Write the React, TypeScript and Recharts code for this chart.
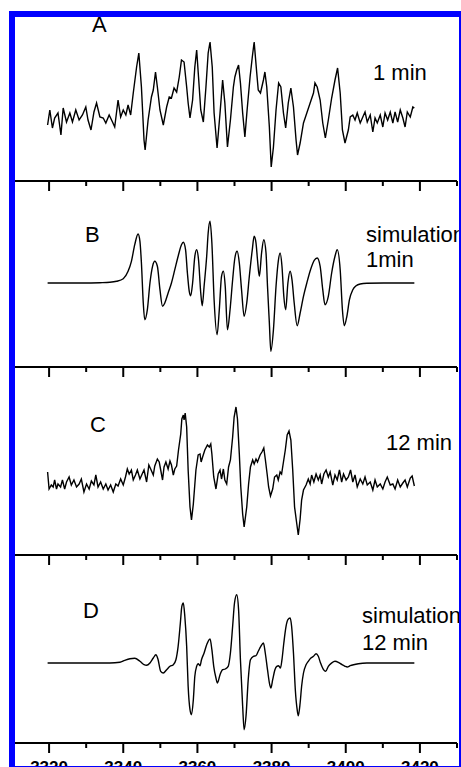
import React from "react";
import { LineChart, Line, XAxis, YAxis } from "recharts";

type Pt = [number, number]; // [field (G), signal (a.u.)]

const FIELD_TICKS = [3310, 3320, 3330, 3340, 3350, 3360, 3370, 3380, 3390, 3400, 3410, 3420, 3430];

// A: experimental, 1 min
const traceA: Pt[] = [
  [3319.6, -5], [3320.2, 10], [3320.9, -8], [3321.5, 2], [3322.4, 7], [3323.2, -15], [3323.8, 12], [3324.7, -2],
  [3325.6, 7], [3326.3, -2], [3327.2, 10], [3328.1, 0], [3329.0, 5], [3329.9, 13], [3330.5, 0], [3331.3, -10],
  [3332.1, 8], [3332.8, 17], [3333.7, 3], [3334.6, 2], [3335.3, -3], [3336.2, 5], [3337.1, -2], [3337.7, -7],
  [3338.6, 20], [3339.3, 3], [3340.0, 10], [3340.7, 5], [3341.3, 15], [3342.0, 5], [3342.7, 27], [3343.6, 53],
  [3344.2, 67], [3344.9, 33], [3345.6, -20], [3345.9, -30], [3346.7, 0], [3347.6, 23], [3348.1, 30], [3348.7, 48],
  [3349.2, 33], [3349.9, 10], [3350.8, -5], [3351.7, 13], [3352.4, 23], [3353.0, 22], [3353.7, 32], [3354.4, 28],
  [3355.1, 43], [3355.7, 60], [3356.4, 58], [3357.1, 33], [3357.5, 17], [3358.0, 2], [3358.7, 20], [3359.3, 53],
  [3359.8, 70], [3360.3, 43], [3360.9, 10], [3361.6, -2], [3362.3, 33], [3362.9, 67], [3363.4, 78], [3364.0, 53],
  [3364.5, 7], [3365.3, -28], [3366.1, 7], [3366.8, 40], [3367.4, 17], [3368.1, -27], [3368.9, 0], [3369.7, 33],
  [3370.1, 43], [3370.6, 50], [3371.1, 55], [3371.6, 37], [3372.2, 7], [3372.8, -17], [3373.4, 10], [3374.2, 43],
  [3374.8, 63], [3375.3, 78], [3376.0, 47], [3376.4, 30], [3377.0, 27], [3377.8, 40], [3378.2, 48], [3378.7, 33],
  [3379.4, -7], [3379.9, -47], [3380.5, -27], [3381.2, 10], [3381.9, 37], [3382.5, 33], [3383.2, 7], [3383.8, -8],
  [3384.5, 17], [3385.2, 32], [3385.9, 13], [3386.6, -20], [3387.0, -35], [3387.7, -23], [3388.6, -3], [3389.5, 7],
  [3390.4, 17], [3391.3, 27], [3391.7, 37], [3392.3, 33], [3393.1, 20], [3393.8, -3], [3394.5, -18], [3395.3, 0],
  [3396.2, 22], [3397.1, 40], [3397.8, 52], [3398.5, 27], [3399.1, -10], [3399.8, -23], [3400.7, -10], [3401.2, 3],
  [3401.9, 5], [3402.5, 0], [3403.1, 7], [3403.9, -3], [3404.6, 3], [3405.2, 8], [3405.8, -2], [3406.6, 5],
  [3407.3, -12], [3407.9, 2], [3408.5, -3], [3409.3, 5], [3410.0, -7], [3410.6, 7], [3411.3, 0], [3412.0, 8],
  [3412.7, -3], [3413.3, 8], [3414.0, -2], [3414.7, 10], [3415.4, 2], [3416.0, -7], [3416.6, 8], [3417.4, 3],
  [3418.1, 13], [3418.5, 12],
];

// B: simulation, 1 min
const traceB: Pt[] = [
  [3319.6, 0], [3324.7, 0], [3329.2, 0], [3333.7, 0.3], [3336.4, 0.7], [3338.2, 1.7], [3340.0, 4.3], [3341.3, 11.7],
  [3342.2, 21.7], [3343.1, 38.3], [3344.0, 49], [3344.5, 41.7], [3344.9, 20], [3345.4, -20], [3345.8, -36.7],
  [3346.5, -26.7], [3347.2, 0], [3347.9, 16.7], [3348.5, 21.7], [3349.2, 16.7], [3349.9, -6.7], [3350.6, -23.3],
  [3351.2, -20], [3352.1, -10], [3353.0, 0], [3353.9, 13.3], [3354.8, 26.7], [3355.7, 38.3], [3356.2, 40.7],
  [3356.8, 33.3], [3357.3, 10], [3357.8, -8.3], [3358.2, -12.7], [3358.7, 0], [3359.3, 26.7], [3359.8, 33.3],
  [3360.3, 23.3], [3360.9, -10], [3361.3, -22.7], [3361.8, -3.3], [3362.5, 26.7], [3362.9, 50], [3363.4, 61.7],
  [3363.9, 40], [3364.5, -16.7], [3365.3, -51.7], [3365.9, -26.7], [3366.5, 6.7], [3367.0, 11.7], [3367.5, -3.3],
  [3368.1, -46.7], [3368.8, -26.7], [3369.5, 3.3], [3370.1, 25], [3370.7, 31.7], [3371.3, 20], [3371.9, -6.7],
  [3372.6, -33.3], [3373.3, -20], [3374.0, 6.7], [3374.8, 33.3], [3375.3, 46.7], [3375.8, 40], [3376.2, 23.3],
  [3376.7, 6.7], [3377.3, 30], [3377.9, 43.3], [3378.5, 30], [3378.9, -3.3], [3379.4, -40], [3379.8, -68.3],
  [3380.5, -46.7], [3381.2, -3.3], [3381.8, 21.7], [3382.3, 30], [3382.8, 16.7], [3383.3, -13.3], [3383.8, -26.7],
  [3384.4, 0], [3385.0, 11.7], [3385.5, 3.3], [3386.1, -20], [3386.9, -42.7], [3387.7, -30], [3388.6, -13.3],
  [3389.5, 0], [3390.5, 13.3], [3391.5, 22.7], [3392.3, 25], [3393.1, 16.7], [3393.8, -6.7], [3394.4, -21.7],
  [3395.3, -13.3], [3396.2, 10], [3397.1, 26.7], [3397.7, 33.3], [3398.5, 13.3], [3399.1, -26.7], [3399.6, -42.7],
  [3400.3, -33.3], [3401.0, -16.7], [3401.9, -6.7], [3402.8, -2.7], [3403.9, -1], [3405.7, -0.3], [3410.2, 0],
  [3418.5, 0],
];

// C: experimental, 12 min
const traceC: Pt[] = [
  [3319.6, 10], [3320.0, -7], [3320.6, -3], [3321.1, -5], [3321.5, 2], [3322.0, -7], [3322.4, -2], [3323.1, -5],
  [3323.6, 2], [3324.2, -7], [3324.7, 0], [3325.4, 5], [3326.0, -3], [3326.7, 2], [3327.4, -5], [3328.1, -2],
  [3328.7, 3], [3329.4, -10], [3330.1, -2], [3330.8, -7], [3331.4, 1], [3332.1, -3], [3332.6, 7], [3333.2, -5],
  [3333.9, 0], [3334.6, -7], [3335.3, -2], [3335.9, -8], [3336.6, -3], [3337.3, -10], [3338.0, -2], [3338.6, -4],
  [3339.3, 3], [3340.0, -3], [3340.6, 5], [3341.1, 13], [3341.6, 8], [3342.2, 12], [3342.7, 2], [3343.3, 7],
  [3343.8, 12], [3344.5, 3], [3345.1, 8], [3345.6, 12], [3346.3, 0], [3346.9, 17], [3347.4, 13], [3348.1, 7],
  [3348.5, 16], [3349.2, 23], [3349.7, 20], [3350.1, 12], [3350.6, 2], [3351.0, 15], [3351.5, 20], [3352.1, 13],
  [3352.6, 21], [3353.0, 17], [3353.5, 7], [3353.9, 13], [3354.4, 16], [3354.9, 32], [3355.5, 48], [3355.8, 63],
  [3356.2, 67], [3356.4, 62], [3356.7, 69], [3357.1, 55], [3357.5, 12], [3358.0, -25], [3358.4, -38], [3358.9, -22],
  [3359.6, 12], [3360.2, 27], [3360.7, 28], [3361.0, 20], [3361.4, 25], [3362.0, 32], [3362.7, 37], [3363.2, 35],
  [3363.6, 38], [3363.9, 28], [3364.4, 5], [3365.0, -7], [3365.6, 8], [3366.1, 12], [3366.5, 3], [3367.0, 13],
  [3367.4, 2], [3367.9, -2], [3368.4, 15], [3368.9, 22], [3369.5, 45], [3369.9, 65], [3370.4, 75], [3370.8, 63],
  [3371.3, 28], [3371.7, -5], [3372.2, -32], [3372.6, -45], [3373.3, -25], [3373.8, -2], [3374.3, 15], [3374.9, 22],
  [3375.3, 18], [3375.8, 23], [3376.2, 20], [3376.9, 27], [3377.4, 30], [3377.9, 34], [3378.3, 23], [3378.8, 8],
  [3379.2, -5], [3379.7, -14], [3380.3, -7], [3380.8, 5], [3381.4, 7], [3381.8, 2], [3382.3, 10], [3382.7, 8],
  [3383.2, 20], [3383.7, 32], [3384.2, 47], [3384.7, 51], [3385.2, 42], [3385.7, 12], [3386.2, -25], [3386.8, -42],
  [3387.2, -53], [3387.7, -37], [3388.1, -18], [3388.6, -8], [3389.3, -3], [3389.9, 3], [3390.4, -2], [3390.8, 7],
  [3391.4, 0], [3392.0, 8], [3392.6, 2], [3393.1, 7], [3393.5, -2], [3394.1, 8], [3394.7, 12], [3395.3, 5],
  [3395.8, 10], [3396.5, -3], [3397.1, 7], [3397.7, 2], [3398.3, 12], [3398.9, 0], [3399.4, 8], [3400.1, 2],
  [3400.7, 5], [3401.3, 12], [3401.9, 0], [3402.5, 7], [3403.1, -5], [3403.9, 3], [3404.6, -2], [3405.2, 5],
  [3405.8, -3], [3406.6, 0], [3407.3, -8], [3407.9, 2], [3408.5, -5], [3409.3, -2], [3410.0, -7], [3410.6, 0],
  [3411.2, 5], [3412.0, -3], [3412.7, -2], [3413.3, -7], [3414.0, 2], [3414.7, -5], [3415.4, -1], [3416.0, 2],
  [3416.6, -5], [3417.4, 4], [3417.9, 6], [3418.5, -4],
];

// D: simulation, 12 min
const traceD: Pt[] = [
  [3319.6, 0], [3324.7, 0], [3330.1, 0], [3336.4, 0], [3339.1, 0.7], [3340.4, 2.7], [3341.8, 4.3], [3343.1, 4.7],
  [3344.5, 1.7], [3345.6, -1.7], [3346.3, -2.3], [3347.2, 0], [3348.1, 5], [3348.8, 8.3], [3349.4, 3.3],
  [3350.1, -8.3], [3350.8, -10], [3351.7, -6.7], [3352.6, -3.3], [3353.5, -1.7], [3354.2, 3.3], [3354.8, 16.7],
  [3355.4, 40], [3355.8, 56.7], [3356.2, 60], [3356.6, 46.7], [3357.1, 16.7], [3357.5, -23.3], [3358.0, -46.7],
  [3358.4, -51.7], [3358.9, -36.7], [3359.3, -13.3], [3359.8, -3.3], [3360.2, -0.7], [3360.7, -2.7], [3361.1, 3.3],
  [3361.8, 10], [3362.5, 18.3], [3363.4, 24], [3363.9, 13.3], [3364.4, -3.3], [3365.0, -15], [3365.4, -20],
  [3366.1, -11.7], [3366.8, -6.7], [3367.5, -6], [3368.3, -3.3], [3368.9, 10], [3369.5, 36.7], [3370.0, 60],
  [3370.6, 68.3], [3371.1, 53.3], [3371.6, 3.3], [3372.2, -43.3], [3372.6, -66.7], [3373.1, -53.3], [3373.7, -16.7],
  [3374.3, 3.3], [3375.1, 6.7], [3375.8, 7.3], [3376.4, 11.7], [3377.1, 16.7], [3377.8, 20], [3378.3, 10],
  [3378.9, -6.7], [3379.5, -21.7], [3379.8, -25], [3380.3, -16.7], [3380.9, -6.7], [3381.4, -3.3], [3381.9, -2.7],
  [3382.4, -5], [3382.8, 3.3], [3383.3, 20], [3383.9, 36.7], [3384.4, 43.3], [3385.0, 45], [3385.4, 36.7],
  [3385.9, 10], [3386.4, -26.7], [3386.9, -46.7], [3387.2, -52.7], [3387.7, -40], [3388.1, -23.3], [3388.6, -10],
  [3389.3, -1.7], [3389.9, 1.7], [3390.6, 5], [3391.3, 6.7], [3392.0, 9.3], [3392.6, 6.7], [3393.2, 0],
  [3394.0, -6.7], [3394.6, -8.3], [3395.3, -3.3], [3396.2, 0], [3397.1, 1.7], [3398.0, 0.7], [3399.0, -1.7],
  [3399.8, -3.3], [3400.4, -4], [3401.2, -2.7], [3402.1, -1.7], [3403.4, -0.7], [3405.7, 0], [3418.5, 0],
];

const FONT = "Arial, 'Liberation Sans', Helvetica, sans-serif";
const BLUE = "#0000ff";

const toRows = (pts: Pt[]) => pts.map(([field, signal]) => ({ field, signal }));

function renderTick(props: any, showLabels: boolean) {
  const { x, y, payload } = props;
  const v = payload.value as number;
  const major = (v - 3320) % 20 === 0;
  return (
    <g>
      <line x1={x} x2={x} y1={y} y2={y + (major ? 10 : 5)} stroke="#000" strokeWidth={2} />
      {showLabels && major && (
        <text x={x} y={y + 30} textAnchor="middle" fontSize={17} fontWeight="bold" fontFamily={FONT} fill="#000">
          {v}
        </text>
      )}
    </g>
  );
}

interface PanelProps {
  top: number
  plotHeight: number
  points: Pt[]
  domain: [number, number]
  smooth?: boolean
  showLabels?: boolean
}

function Panel({ top, plotHeight, points, domain, smooth = false, showLabels = false }: PanelProps) {
  return (
    <div style={{ position: "absolute", left: 0, top }}>
      <LineChart
        width={461}
        height={plotHeight + 30}
        data={toRows(points)}
        margin={{ top: 0, right: 4, bottom: 0, left: 12 }}
      >
        <XAxis
          type="number"
          dataKey="field"
          domain={[3310, 3430]}
          ticks={FIELD_TICKS}
          interval={0}
          height={30}
          tickSize={0}
          tickMargin={0}
          tickLine={false}
          axisLine={{ stroke: "#000", strokeWidth: 2 }}
          tick={(p: any) => renderTick(p, showLabels)}
        />
        <YAxis hide domain={domain} allowDataOverflow />
        <Line
          type={smooth ? "monotone" : "linear"}
          dataKey="signal"
          stroke="#000"
          strokeWidth={1.4}
          dot={false}
          isAnimationActive={false}
        />
      </LineChart>
    </div>
  );
}

export default function App() {
  return (
    <div
      style={{
        position: "absolute",
        left: 0,
        top: 0,
        width: 461,
        height: 767,
        overflow: "hidden",
        background: "#fff",
      }}
    >
      <Panel top={16} plotHeight={165} points={traceA} domain={[-61, 104]} />
      <Panel top={181} plotHeight={186} points={traceB} domain={[-84, 102]} smooth />
      <Panel top={367} plotHeight={188} points={traceC} domain={[-73, 115]} />
      <Panel top={555} plotHeight={188} points={traceD} domain={[-80, 108]} smooth showLabels />

      <svg
        width={461}
        height={767}
        style={{ position: "absolute", left: 0, top: 0, pointerEvents: "none" }}
      >
        <g fontFamily={FONT} fontSize={22} fill="#000">
          <text x={92} y={32}>A</text>
          <text x={373} y={80}>1 min</text>
          <text x={85} y={242}>B</text>
          <text x={366} y={242}>simulation</text>
          <text x={366} y={267}>1min</text>
          <text x={90} y={432}>C</text>
          <text x={386} y={450}>12 min</text>
          <text x={83} y={618}>D</text>
          <text x={362} y={623}>simulation</text>
          <text x={362} y={650}>12 min</text>
        </g>
      </svg>

      {/* blue frame */}
      <div style={{ position: "absolute", left: 9, top: 11, width: 452, height: 6, background: BLUE }} />
      <div style={{ position: "absolute", left: 9, top: 11, width: 6, height: 756, background: BLUE }} />
      <div style={{ position: "absolute", left: 459, top: 11, width: 2, height: 756, background: BLUE }} />
      <div style={{ position: "absolute", left: 9, top: 766, width: 452, height: 1, background: BLUE }} />
    </div>
  );
}
